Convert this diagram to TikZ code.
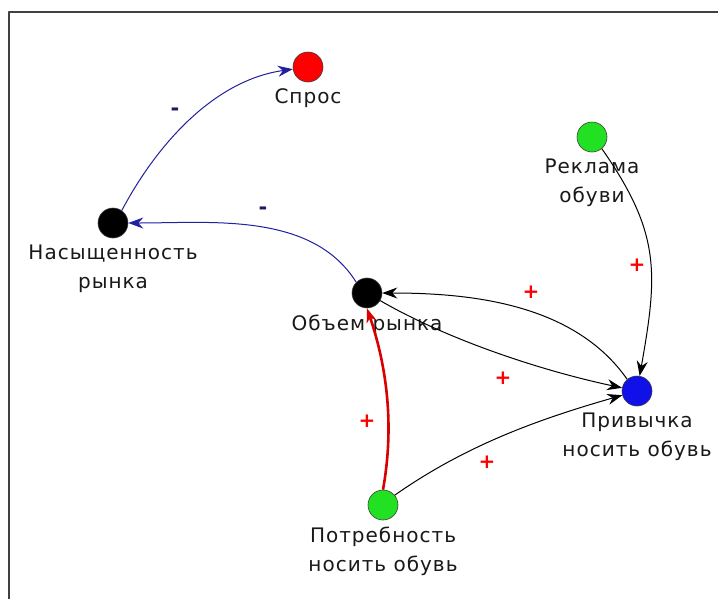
\documentclass[tikz,border=0pt]{standalone}
\usepackage{fontspec}
\setmainfont[LetterSpace=5]{DejaVu Sans}
\usetikzlibrary{arrows.meta,positioning}
\definecolor{vgreen}{HTML}{22E022}
\definecolor{vblue}{HTML}{1010E8}
\definecolor{negblue}{HTML}{2020A0}
\definecolor{negsign}{HTML}{1A1A60}

\begin{document}
\begin{tikzpicture}[x=1pt, y=1pt, line join=round,
  vert/.style={circle, draw=black!75, line width=0.6pt, minimum size=30pt, inner sep=0pt},
  lbl/.style={inner sep=0pt, align=center, text=black!90, font=\fontsize{20}{29}\selectfont},
  minuslink/.style={draw=negblue, line width=1pt, -{Stealth[length=15pt,width=11pt,inset=5pt]}},
  pluslink/.style={draw=black, line width=1pt, -{Stealth[length=15pt,width=11pt,inset=5pt]}},
  sgnp/.style={text=red, inner sep=0pt, font=\bfseries\fontsize{20}{20}\selectfont},
  sgnm/.style={text=negsign, inner sep=0pt, font=\bfseries\fontsize{21}{21}\selectfont}]
\useasboundingbox (0,0) rectangle (718,-598);
\fill[white] (0,0) rectangle (718,-598);
\draw[black!75, line width=1.6pt] (9,-600) -- (9,-12) -- (720,-12);   % frame

% vertices
\node[vert, fill=red]   (sp)    at (308,-67)  {};
\node[vert, fill=black] (nas)   at (113,-223) {};
\node[vert, fill=black] (obj)   at (367,-293) {};
\node[vert, fill=vgreen](rekl)  at (592,-137) {};
\node[vert, fill=vblue] (priv)  at (637,-391) {};
\node[vert, fill=vgreen](potr)  at (383,-505) {};

% captions
\node[lbl, below=6pt of sp]   (spl)   {Спрос};
\node[lbl, below=6pt of nas]  (nasl)  {Насыщенность\\рынка};
\node[lbl, below=6pt of obj]  (objl)  {Объем рынка};
\node[lbl, below=6pt of rekl] (rekll) {Реклама\\обуви};
\node[lbl, below=6pt of priv] (privl) {Привычка\\носить обувь};
\node[lbl, below=6pt of potr] (potrl) {Потребность\\носить обувь};

% links
\draw[minuslink] (nas.55) to[out=62, in=188, looseness=0.9] (sp);
\draw[minuslink] (obj.135) to[out=122, in=0, looseness=0.9] (nas);
\draw[pluslink] (priv.130) to[out=125, in=0, looseness=0.9] (obj);
\draw[pluslink] (obj.-30) to[out=-30, in=168, looseness=0.8] (priv);
\draw[pluslink] (rekl.-50) to[out=-55, in=80, looseness=1.15] (priv);
\draw[pluslink] (potr.40) to[out=35, in=196, looseness=0.9] (priv);
\draw[red!85!black, line width=2.6pt, -{Stealth[length=14pt,width=10pt,inset=4pt]}]
  (potr.north) .. controls (391,-445) and (393,-385) .. (obj.south);

% signs
\node[sgnm] (m1) at (175,-112) {-};
\node[sgnm] (m2) at (263,-211) {-};
\node[sgnp] (p1) at (531,-292) {+};
\node[sgnp] (p2) at (503,-378) {+};
\node[sgnp] (p3) at (637,-265) {+};
\node[sgnp] (p4) at (487,-462) {+};
\node[sgnp] (p5) at (367,-421) {+};
\end{tikzpicture}
\end{document}
